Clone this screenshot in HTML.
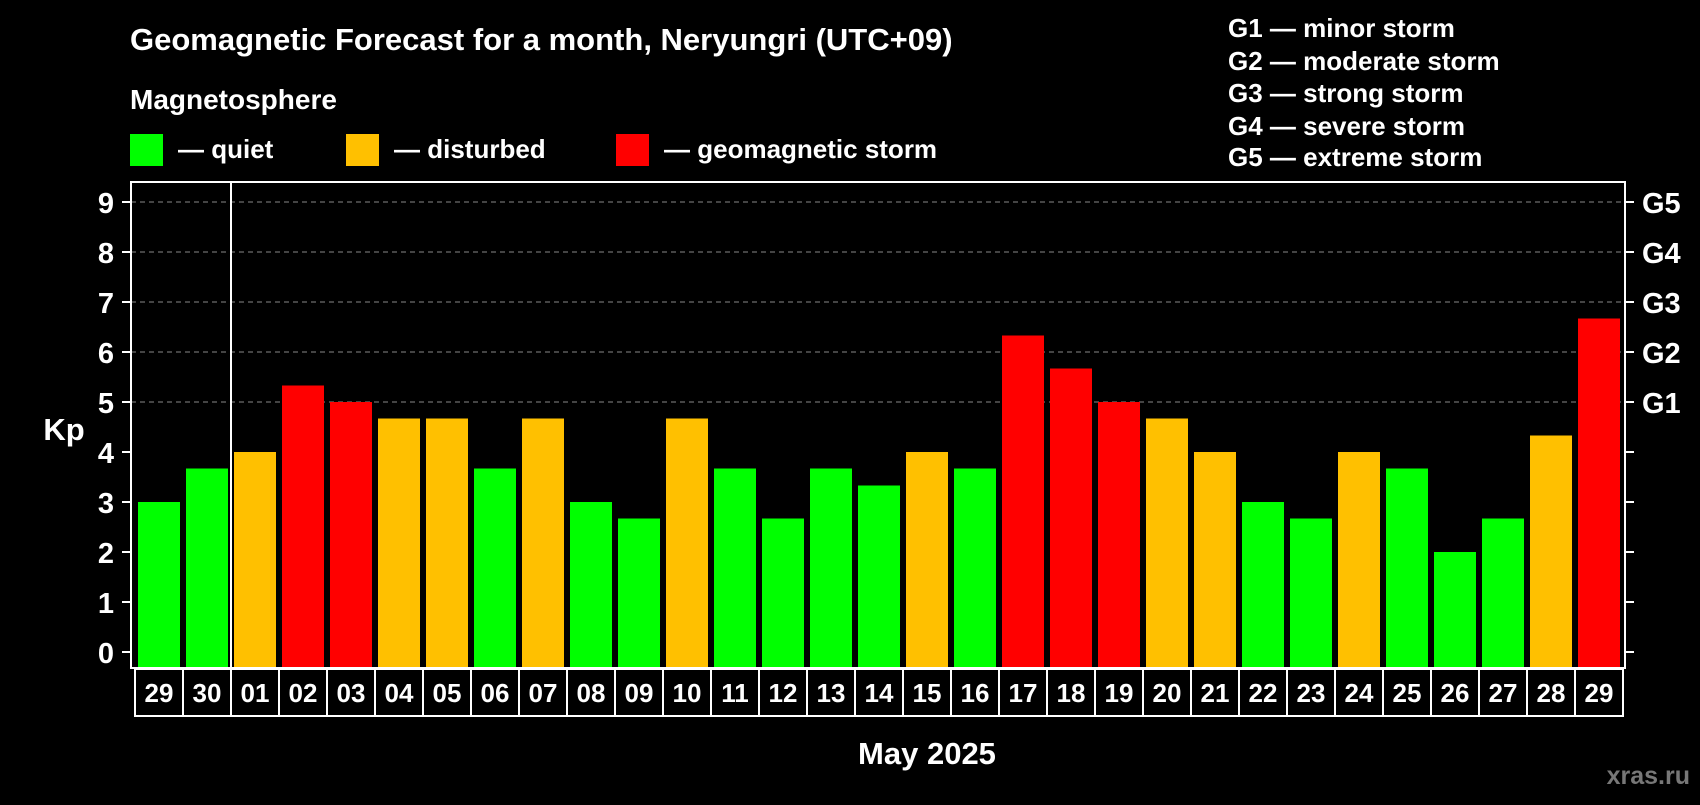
<!DOCTYPE html>
<html><head><meta charset="utf-8"><style>
body{margin:0;background:#000;width:1700px;height:800px;overflow:hidden;font-family:"Liberation Sans",sans-serif;font-weight:bold;color:#fff}
</style></head><body>
<svg width="1700" height="800" xmlns="http://www.w3.org/2000/svg" font-family="Liberation Sans, sans-serif" font-weight="bold">
<text x="130" y="50" font-size="31" fill="#fff">Geomagnetic Forecast for a month, Neryungri (UTC+09)</text>
<text x="130" y="109" font-size="28" fill="#fff">Magnetosphere</text>
<g><rect x="130" y="134" width="33" height="32" fill="#00ff00"/><text x="178" y="158" font-size="26" fill="#fff">— quiet</text></g>
<g><rect x="346" y="134" width="33" height="32" fill="#ffc000"/><text x="394" y="158" font-size="26" fill="#fff">— disturbed</text></g>
<g><rect x="616" y="134" width="33" height="32" fill="#ff0000"/><text x="664" y="158" font-size="26" fill="#fff">— geomagnetic storm</text></g>
<g font-size="26" fill="#fff">
<text x="1228" y="37">G1 — minor storm</text>
<text x="1228" y="70">G2 — moderate storm</text>
<text x="1228" y="102">G3 — strong storm</text>
<text x="1228" y="135">G4 — severe storm</text>
<text x="1228" y="166">G5 — extreme storm</text>
</g>
<g id="grid"></g><g id="bars"></g><g id="axes"></g>
<text x="64" y="440" font-size="31" fill="#fff" text-anchor="middle">Kp</text>
<text x="927" y="764" font-size="31" fill="#fff" text-anchor="middle">May 2025</text>
<text x="1690" y="784" font-size="25" fill="#777" text-anchor="end">xras.ru</text>
</svg>
<script>
const days=["29","30","01","02","03","04","05","06","07","08","09","10","11","12","13","14","15","16","17","18","19","20","21","22","23","24","25","26","27","28","29"];
const kp=[3,3.67,4,5.33,5,4.67,4.67,3.67,4.67,3,2.67,4.67,3.67,2.67,3.67,3.33,4,3.67,6.33,5.67,5,4.67,4,3,2.67,4,3.67,2,2.67,4.33,6.67];
const yTicks=[0,1,2,3,4,5,6,7,8,9];
const gLabels=["G1","G2","G3","G4","G5"];
const NS="http://www.w3.org/2000/svg";
const L=131,R=1625,T=182,B=668,x0=138,pitch=48,bw=42;
const y=v=>652-v*50;
const xb=i=>x0+i*pitch;
function mk(tag,attrs,parent){const e=document.createElementNS(NS,tag);for(const k in attrs)e.setAttribute(k,attrs[k]);parent.appendChild(e);return e;}
const grid=document.getElementById('grid'),bars=document.getElementById('bars'),axes=document.getElementById('axes');
yTicks.forEach(v=>{
 if(v>=5){const l=mk('line',{x1:L,x2:R,y1:y(v),y2:y(v),stroke:'#888','stroke-dasharray':'5,4','stroke-width':1},grid);
 
 }
 const t=mk('line',{x1:L-9,x2:L,y1:y(v),y2:y(v),stroke:'#fff','stroke-width':2},axes);
 
 
 const t2=mk('line',{x1:R,x2:R+9,y1:y(v),y2:y(v),stroke:'#fff','stroke-width':2},axes);
 
 
 const tx=mk('text',{x:106,y:y(v)+11,'font-size':29,fill:'#fff','text-anchor':'middle'},axes);tx.textContent=v;
 
 
});
gLabels.forEach((g,i)=>{const tx=mk('text',{x:1642,y:y(5+i)+11,'font-size':29,fill:'#fff'},axes);tx.textContent=g;
 
 });
const col=v=>v>=5?'#ff0000':(v>=4?'#ffc000':'#00ff00');
kp.forEach((v,i)=>{const r=mk('rect',{x:xb(i),y:y(v),width:bw,height:B-y(v),fill:col(v)},bars);
 
 
 const c=mk('rect',{x:xb(i)-3,y:669,width:pitch,height:47,fill:'none',stroke:'#fff','stroke-width':2},axes);
 
 
 const t=mk('text',{x:xb(i)+bw/2,y:702,'font-size':26,fill:'#fff','text-anchor':'middle'},axes);t.textContent=days[i];
 
 
});
const box=mk('rect',{x:L,y:T,width:R-L,height:B-T,fill:'none',stroke:'#fff','stroke-width':2},axes);


const sep=mk('line',{x1:xb(2)-3,x2:xb(2)-3,y1:T,y2:B,stroke:'#fff','stroke-width':2},axes);


</script>
</body></html>
